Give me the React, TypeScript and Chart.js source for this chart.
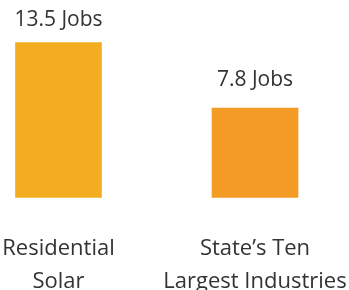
import { useEffect, useRef } from "react";
import { Chart, registerables } from "chart.js";

Chart.register(...registerables);

const categories = [["Residential", "Solar"], ["State’s Ten", "Largest Industries"]];
const jobs = [13.5, 7.8];
const valueLabels = ["13.5 Jobs", "7.8 Jobs"];
const barColors = ["#F4AC22", "#F39B25"];

export default function App() {
  const ref = useRef<HTMLCanvasElement>(null);
  useEffect(() => {
    document.body.style.margin = "0";
    const valuePlugin = {
      id: "valueLabels",
      afterDatasetsDraw(chart: any) {
        const ctx = chart.ctx;
        const meta = chart.getDatasetMeta(0);
        ctx.save();
        ctx.font = "21px 'Open Sans'";
        ctx.fillStyle = "#333333";
        ctx.textAlign = "center";
        ctx.textBaseline = "alphabetic";
        meta.data.forEach((bar: any, i: number) => {
          const y = Math.max(bar.y - 22, chart.chartArea.top);
          ctx.fillText(valueLabels[i], bar.x, y);
        });
        ctx.restore();
      },
    };
    const chart = new Chart(ref.current as HTMLCanvasElement, {
      type: "bar",
      data: {
        labels: categories,
        datasets: [
          {
            data: jobs,
            backgroundColor: barColors,
            barThickness: 86,
            clip: false as any,
          },
        ],
      },
      options: {
        responsive: false,
        animation: false,
        layout: { padding: { top: 25.5, left: 58.5, right: 94, bottom: 0 } },
        plugins: { legend: { display: false }, tooltip: { enabled: false } },
        scales: {
          x: {
            offset: false,
            grid: { display: false, drawTicks: false },
            border: { display: false },
            ticks: {
              padding: 35.5,
              color: "#333333",
              font: { family: "'Open Sans'", size: 22, lineHeight: 1.48 },
              autoSkip: false,
              maxRotation: 0,
            },
            afterFit(scale: any) {
              scale.paddingLeft = 0;
              scale.paddingRight = 0;
              scale.height = 92.7;
            },
          },
          y: { display: false, min: 0, max: 15 },
        },
      },
      plugins: [valuePlugin],
    });
    return () => chart.destroy();
  }, []);
  return <canvas ref={ref} width={349} height={290} style={{ display: "block" }} />;
}
